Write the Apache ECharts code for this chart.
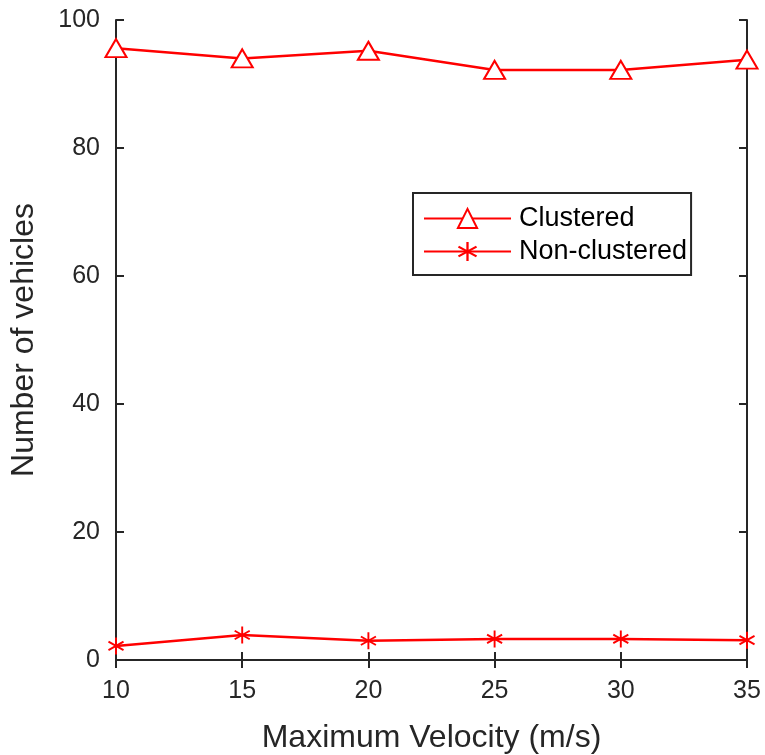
<!DOCTYPE html>
<html>
<head>
<meta charset="utf-8">
<script src="https://cdn.jsdelivr.net/npm/echarts@6/dist/echarts.min.js"></script>
<style>html,body{margin:0;padding:0;background:#fff}#c{width:765px;height:755px}</style>
</head>
<body>
<div id="c"></div>
<script>
const velocities = [10, 15, 20, 25, 30, 35];
const clustered = [95.6, 94.0, 95.2, 92.2, 92.2, 93.8];
const nonClustered = [2.2, 3.9, 3.0, 3.3, 3.3, 3.1];
const seriesNames = ['Clustered', 'Non-clustered'];
const xTitle = 'Maximum Velocity (m/s)';
const yTitle = 'Number of vehicles';

// asterisk: vertical bar + two diagonals (arm half-width 0.11)
const asterisk = 'path://M-0.11,-1L0.11,-1L0.11,1L-0.11,1Z' +
  'M0.811,-0.595L0.921,-0.405L-0.811,0.595L-0.921,0.405Z' +
  'M-0.921,-0.405L-0.811,-0.595L0.921,0.405L0.811,0.595Z';

const txt = '#262626';
const font = 'Liberation Sans, Arial, sans-serif';
function pair(arr){ return velocities.map((v,i)=>[v, arr[i]]); }

const chart = echarts.init(document.getElementById('c'), null, {renderer:'canvas'});
const axisLine = {show:true, lineStyle:{color:txt, width:2}};
const axisTick = {show:true, inside:true, length:8, lineStyle:{color:txt, width:2}};
chart.setOption({
  animation:false,
  backgroundColor:'#fff',
  grid:{left:116, right:18, top:20, bottom:95, containLabel:false, outerBoundsMode:'none'},
  xAxis:[
    {type:'value', min:10, max:35, interval:5, position:'bottom',
     name:xTitle, nameLocation:'middle', nameGap:62,
     nameTextStyle:{color:txt, fontSize:32, fontFamily:font},
     axisLine, axisTick, splitLine:{show:false},
     axisLabel:{color:txt, fontSize:25, fontFamily:font, margin:19}},
    {type:'value', min:10, max:35, interval:5, position:'top',
     axisLine, axisTick, splitLine:{show:false}, axisLabel:{show:false}}
  ],
  yAxis:[
    {type:'value', min:0, max:100, interval:20, position:'left',
     name:yTitle, nameLocation:'middle', nameGap:76,
     nameTextStyle:{color:txt, fontSize:32, fontFamily:font},
     axisLine, axisTick, splitLine:{show:false},
     axisLabel:{color:txt, fontSize:25, fontFamily:font, margin:16}},
    {type:'value', min:0, max:100, interval:20, position:'right',
     axisLine, axisTick, splitLine:{show:false}, axisLabel:{show:false}}
  ],
  legend:{
    orient:'vertical', left:413, top:193,
    padding:[12,4,10,10], itemGap:6,
    itemWidth:87, itemHeight:24,
    borderColor:txt, borderWidth:2, backgroundColor:'#fff',
    textStyle:{color:'#000', fontSize:27, fontFamily:font, lineHeight:27, padding:[0,0,0,3]},
    data:seriesNames
  },
  series:[
    {name:seriesNames[0], type:'line', data:pair(clustered),
     symbol:'emptyTriangle', symbolSize:[21,18],
     lineStyle:{color:'#ff0000', width:2.5},
     itemStyle:{color:'#ff0000', borderColor:'#ff0000', borderWidth:3}},
    {name:seriesNames[1], type:'line', data:pair(nonClustered),
     symbol:asterisk, symbolSize:[16,17], symbolKeepAspect:false,
     lineStyle:{color:'#ff0000', width:2.5},
     itemStyle:{color:'#ff0000', borderWidth:0}}
  ]
});
</script>
</body>
</html>
